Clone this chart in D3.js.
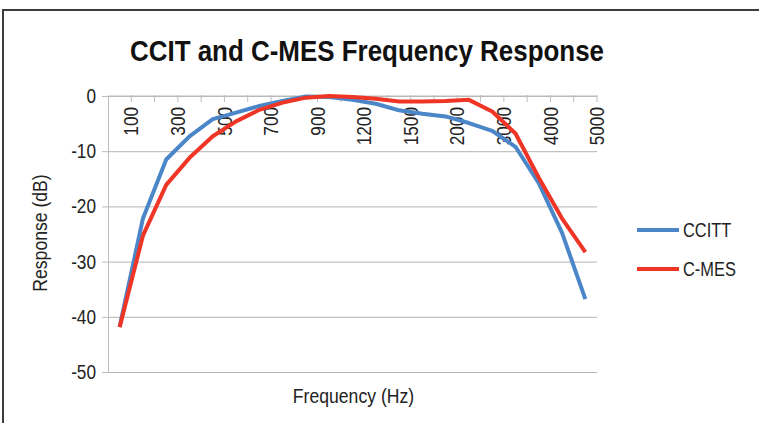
<!DOCTYPE html>
<html>
<head>
<meta charset="utf-8">
<script src="https://cdn.jsdelivr.net/npm/d3@7/dist/d3.min.js"></script>
<style>
  body { margin: 0; background: #fff; }
  text { font-family: "Liberation Sans", Arial, sans-serif; fill: #222; }
  .grid line { stroke: #b4b4b4; stroke-width: 1; }
  .grid path { stroke: none; }
  .yaxis path, .yaxis line, .xaxis line { stroke: #bdbdbd; stroke-width: 1; }
</style>
</head>
<body>
<div id="chart"></div>
<script>
// frequency categories (Hz), one label shown for every other one
var categories = ["100", "200", "300", "400", "500", "600", "700", "800", "900", "1000",
    "1200", "1300", "1500", "1800", "2000", "2500", "3000", "3500", "4000", "4500", "5000"];

// response in dB
var ccittValues = [-41.8, -22.2, -11.5, -7.3, -4.2, -3.0, -1.8, -0.9, -0.1, -0.2,
    -0.7, -1.4, -2.6, -3.2, -3.7, -4.9, -6.3, -9.2, -15.8, -24.8, -36.8];
var cmesValues = [-41.9, -25.3, -16.1, -11.2, -7.3, -4.6, -2.5, -1.2, -0.3, 0.0,
    -0.2, -0.5, -1.0, -1.0, -0.9, -0.7, -2.8, -6.8, -14.8, -22.2, -28.3];

var yTicks = [0, -10, -20, -30, -40, -50];
var seriesNames = ["CCITT", "C-MES"];
var seriesColors = ["#4a86c8", "#ee3526"];

var W = 759, H = 423;
var margin = { top: 96, right: 162, bottom: 51, left: 108 },
    width = W - margin.left - margin.right,
    height = H - margin.top - margin.bottom;

// the original uses a condensed face; squeeze the regular one to match
function condense(sel, k) {
    sel.each(function () {
        var len = this.getComputedTextLength();
        d3.select(this)
            .attr("textLength", len * k)
            .attr("lengthAdjust", "spacingAndGlyphs");
    });
}

var root = d3.select("#chart")
    .append("svg")
    .attr("width", W)
    .attr("height", H);

// outer frame (only top and left edges are visible in the picture)
root.append("path")
    .attr("d", "M3," + H + "V10H" + W)
    .attr("fill", "none")
    .attr("stroke", "#3c3c3c")
    .attr("stroke-width", 2);

// title
root.append("text")
    .attr("x", 367)
    .attr("y", 61)
    .attr("text-anchor", "middle")
    .attr("textLength", 474)
    .attr("lengthAdjust", "spacingAndGlyphs")
    .style("font-size", "29px")
    .style("font-weight", "bold")
    .style("fill", "#111")
    .text("CCIT and C-MES Frequency Response");

var svg = root.append("g")
    .attr("transform", "translate(" + margin.left + "," + margin.top + ")");

var x = d3.scaleBand()
    .domain(categories)
    .range([0, width]);

var y = d3.scaleLinear()
    .domain([-50, 0])
    .range([height, 0]);

// horizontal gridlines
svg.append("g")
    .attr("class", "grid")
    .call(d3.axisLeft(y)
        .tickValues(yTicks)
        .tickSize(-width)
        .tickFormat(""));

// y axis
var yAxis = svg.append("g")
    .attr("class", "yaxis")
    .call(d3.axisLeft(y)
        .tickValues(yTicks)
        .tickSize(6)
        .tickSizeOuter(0)
        .tickPadding(6)
        .tickFormat(function (d) { return String(d); }));
yAxis.selectAll("text")
    .style("font-family", null)
    .style("font-size", "20px")
    .style("fill", "#222")
    .call(condense, 0.86);

// x axis sits on the 0 dB line, ticks between categories
var xAxis = svg.append("g")
    .attr("class", "xaxis")
    .attr("transform", "translate(0," + y(0) + ")");

xAxis.append("line")
    .attr("x1", 0)
    .attr("x2", width);

xAxis.selectAll(".xtick")
    .data(categories)
    .enter()
    .append("line")
    .attr("class", "xtick")
    .attr("x1", function (d) { return x(d) + x.bandwidth(); })
    .attr("x2", function (d) { return x(d) + x.bandwidth(); })
    .attr("y1", -1)
    .attr("y2", 6);

xAxis.selectAll(".xlabel")
    .data(categories.filter(function (d, i) { return i % 2 === 0; }))
    .enter()
    .append("text")
    .attr("class", "xlabel")
    .attr("text-anchor", "end")
    .attr("dy", "0.36em")
    .attr("transform", function (d) {
        return "translate(" + (x(d) + x.bandwidth()) + ",11) rotate(-90)";
    })
    .style("font-size", "20px")
    .text(function (d) { return d; })
    .call(condense, 0.86);

// axis titles
svg.append("text")
    .attr("text-anchor", "middle")
    .attr("x", width / 2 + 1)
    .attr("y", height + 31)
    .style("font-size", "20px")
    .text("Frequency (Hz)")
    .call(condense, 0.88);

svg.append("text")
    .attr("text-anchor", "middle")
    .attr("transform", "rotate(-90)")
    .attr("x", -137)
    .attr("y", -61)
    .style("font-size", "20px")
    .text("Response (dB)")
    .call(condense, 0.88);

// the two response curves
var series = [ccittValues, cmesValues];
var line = d3.line()
    .x(function (d, i) { return x(categories[i]) + x.bandwidth() / 2; })
    .y(function (d) { return y(d); });

svg.selectAll(".curve")
    .data(series)
    .enter()
    .append("path")
    .attr("class", "curve")
    .attr("fill", "none")
    .attr("stroke", function (d, i) { return seriesColors[i]; })
    .attr("stroke-width", 4)
    .attr("stroke-linejoin", "round")
    .attr("d", line);

// legend
var legend = root.append("g")
    .attr("transform", "translate(637,230)");

var item = legend.selectAll(".item")
    .data(seriesNames)
    .enter()
    .append("g")
    .attr("class", "item")
    .attr("transform", function (d, i) { return "translate(0," + i * 39 + ")"; });

item.append("line")
    .attr("x1", 0)
    .attr("x2", 42)
    .attr("stroke", function (d, i) { return seriesColors[i]; })
    .attr("stroke-width", 4);

item.append("text")
    .attr("x", 46)
    .attr("dy", "0.36em")
    .style("font-size", "20px")
    .text(function (d) { return d; })
    .call(condense, 0.82);
</script>
</body>
</html>
